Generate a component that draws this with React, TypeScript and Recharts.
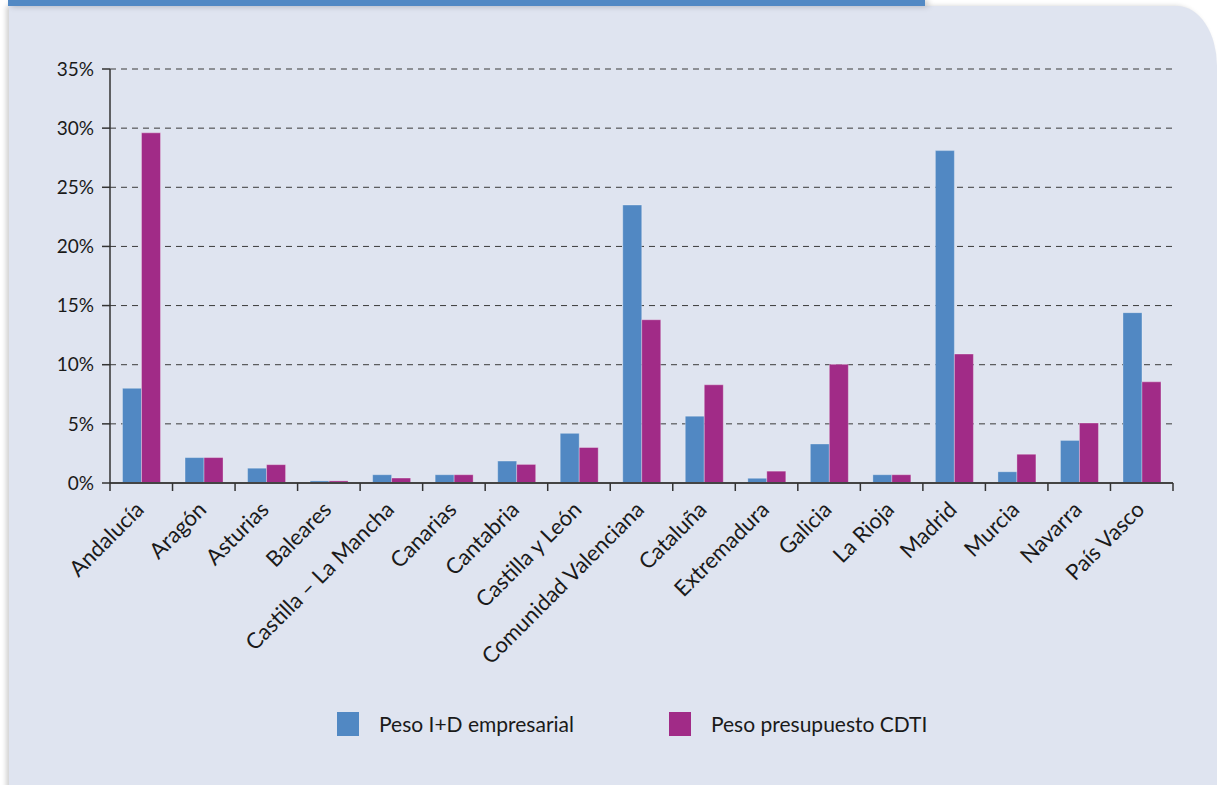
import React from "react";
import { BarChart, Bar, XAxis, YAxis, CartesianGrid, Legend } from "recharts";

const categories = [
  "Andalucía",
  "Aragón",
  "Asturias",
  "Baleares",
  "Castilla – La Mancha",
  "Canarias",
  "Cantabria",
  "Castilla y León",
  "Comunidad Valenciana",
  "Cataluña",
  "Extremadura",
  "Galicia",
  "La Rioja",
  "Madrid",
  "Murcia",
  "Navarra",
  "País Vasco",
];

const pesoID = [8.0, 2.15, 1.25, 0.18, 0.7, 0.7, 1.85, 4.2, 23.5, 5.65, 0.4, 3.3, 0.7, 28.1, 0.95, 3.6, 14.4];
const pesoCDTI = [29.6, 2.15, 1.55, 0.18, 0.42, 0.7, 1.57, 3.0, 13.8, 8.3, 1.0, 10.03, 0.7, 10.9, 2.43, 5.07, 8.55];

const yTicks = [0, 5, 10, 15, 20, 25, 30, 35];

const seriesNames = ["Peso I+D empresarial", "Peso presupuesto CDTI"];
const BLUE = "#5188c3";
const PURPLE = "#a12b87";

const data = categories.map((c, i) => ({
  name: c,
  id: pesoID[i],
  cdti: pesoCDTI[i],
}));

const FONT = "Lato, 'Noto Sans', sans-serif";

const XTick = (props: any) => {
  const { x, payload, index, visibleTicksCount } = props;
  const half = payload && payload.offset ? payload.offset : 1063 / 34;
  const axisY = 483;
  const isLast = index === (visibleTicksCount ?? categories.length) - 1;
  const ax = x + 4;
  const ay = axisY + 28;
  return (
    <g>
      <line x1={x - half} x2={x - half} y1={axisY} y2={axisY + 8} stroke="#333" strokeWidth={1.5} />
      {isLast && (
        <line x1={x + half} x2={x + half} y1={axisY} y2={axisY + 8} stroke="#333" strokeWidth={1.5} />
      )}
      <text
        x={ax}
        y={ay}
        textAnchor="end"
        fill="#1a1a1a"
        fontSize={22}
        fontFamily={FONT}
        transform={`rotate(-45, ${ax}, ${ay})`}
      >
        {payload.value}
      </text>
    </g>
  );
};

const LegendContent = () => {
  const colors = [BLUE, PURPLE];
  return (
    <div
      style={{
        display: "flex",
        alignItems: "center",
        paddingLeft: 337,
        paddingTop: 27,
        fontFamily: FONT,
        color: "#1a1a1a",
      }}
    >
      {seriesNames.map((n, i) => (
        <div key={n} style={{ display: "flex", alignItems: "center", marginRight: 95 }}>
          <div style={{ width: 22, height: 24, background: colors[i] }} />
          <span style={{ marginLeft: 20, fontSize: 21, lineHeight: "24px" }}>{n}</span>
        </div>
      ))}
    </div>
  );
};

export default function App() {
  return (
    <div
      style={{
        position: "absolute",
        left: 0,
        top: 0,
        width: 1217,
        height: 785,
        background: "#ffffff",
        overflow: "hidden",
      }}
    >
      <div
        style={{
          position: "absolute",
          left: 9,
          top: 6,
          width: 1208,
          height: 790,
          background: "#dfe4f0",
          borderTopRightRadius: "40px 60px",
          boxShadow: "-3px 0 5px rgba(0,0,0,0.18)",
        }}
      />
      <div
        style={{
          position: "absolute",
          left: 8,
          top: 0,
          width: 917,
          height: 6,
          background: "#5289c4",
          boxShadow: "3px 0 6px rgba(0,0,0,0.25)",
        }}
      />
      <div style={{ position: "absolute", left: 0, top: 0 }}>
        <BarChart
          width={1217}
          height={785}
          data={data}
          margin={{ top: 69, right: 44, bottom: 20, left: 50 }}
          barCategoryGap="20%"
          barGap={0}
        >
          <CartesianGrid vertical={false} stroke="#3a3a3a" strokeDasharray="6 5" strokeWidth={1} />
          <XAxis
            dataKey="name"
            interval={0}
            tick={<XTick />}
            tickLine={false}
            axisLine={{ stroke: "#444", strokeWidth: 2 }}
            height={202}
          />
          <YAxis
            domain={[0, 35]}
            ticks={yTicks}
            interval={0}
            width={60}
            tickFormatter={(v: number) => `${v}%`}
            tickSize={8}
            tickMargin={8}
            axisLine={{ stroke: "#333", strokeWidth: 1.5 }}
            tickLine={{ stroke: "#333", strokeWidth: 1.5 }}
            tick={{ fill: "#1a1a1a", fontSize: 19, fontFamily: FONT }}
          />
          <Legend
            verticalAlign="bottom"
            height={80}
            wrapperStyle={{ left: 0, width: 1217 }}
            content={<LegendContent />}
          />
          <Bar dataKey="id" name={seriesNames[0]} fill={BLUE} stroke="rgba(255,255,255,0.3)" strokeWidth={1} isAnimationActive={false} />
          <Bar dataKey="cdti" name={seriesNames[1]} fill={PURPLE} stroke="rgba(255,255,255,0.3)" strokeWidth={1} isAnimationActive={false} />
        </BarChart>
      </div>
    </div>
  );
}
